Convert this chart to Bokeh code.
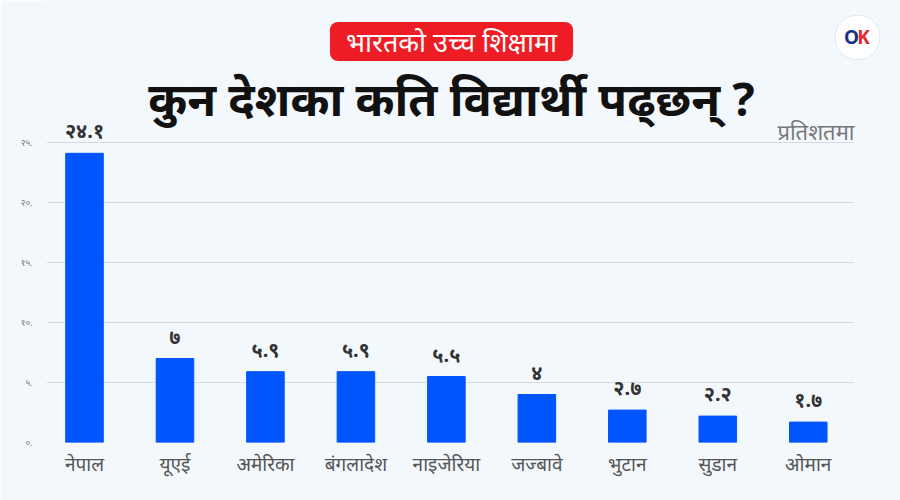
from bokeh.plotting import figure
from bokeh.models import Range1d, FixedTicker, Label, ColumnDataSource, BoxAnnotation
from bokeh.core.properties import value
from bokeh.embed import file_html
from bokeh.resources import INLINE

countries = ["नेपाल", "यूएई", "अमेरिका", "बंगलादेश", "नाइजेरिया", "जज्बावे", "भुटान", "सुडान", "ओमान"]
shares = [24.1, 7, 5.9, 5.9, 5.5, 4, 2.7, 2.2, 1.7]
y_ticks = [0, 5, 10, 15, 20, 25]
y_tick_labels = ["०.", "५.", "१०.", "१५.", "२०.", "२५."]

DEV = str.maketrans("0123456789", "०१२३४५६७८९")
def dev(v):
    return ("%g" % v).translate(DEV)

value_labels = [dev(v) for v in shares]
idx = list(range(len(countries)))

BG = "#f3f8fd"
FONT = "Noto Sans"

W, H = 900, 500
FL, FB = 46, 442          # frame left / bottom in canvas px
PX_X = 90.47               # px per category
PX_Y = 12.0                # px per percent
x0 = -0.42
x_end = x0 + (W - FL) / PX_X
y_end = FB / PX_Y

p = figure(width=W, height=H, output_backend="svg", toolbar_location=None,
           x_range=Range1d(x0, x_end), y_range=Range1d(0, y_end),
           min_border_left=FL, min_border_right=0, min_border_top=0, min_border_bottom=H - FB)
p.background_fill_color = BG
p.border_fill_color = BG
p.outline_line_color = None

src = ColumnDataSource(dict(x=idx, top=shares, lab=value_labels))
p.vbar(x="x", top="top", bottom=0, width=0.415, source=src, color="#0055ff")
p.text(x="x", y="top", text="lab", source=src, text_align="center", text_baseline="bottom",
       y_offset=-9, text_font=value(FONT), text_font_style="bold", text_font_size="20px",
       text_color="#333333")

p.xgrid.visible = False
p.ygrid.grid_line_color = "#d6dbe2"
p.ygrid.grid_line_width = 1
p.yaxis.ticker = FixedTicker(ticks=y_ticks)
p.yaxis.major_label_overrides = {t: l for t, l in zip(y_ticks, y_tick_labels)}
p.xaxis.ticker = FixedTicker(ticks=idx)
p.xaxis.major_label_overrides = {i: c for i, c in zip(idx, countries)}
for ax in (p.xaxis, p.yaxis):
    ax.axis_line_color = None
    ax.major_tick_line_color = None
    ax.minor_tick_line_color = None
    ax.major_label_text_font = FONT
p.yaxis.major_label_text_font_size = "9px"
p.yaxis.major_label_text_color = "#777777"
p.yaxis.major_label_standoff = 8
p.xaxis.major_label_text_font_size = "19px"
p.xaxis.major_label_text_color = "#555555"
p.xaxis.major_label_standoff = 2

# hide grid lines right of the last category
p.add_layout(BoxAnnotation(left=x0 + (853 - FL) / PX_X, fill_color=BG, fill_alpha=1, line_color=None))

def sx(X):
    return X - FL
def sy(Y):
    return FB - Y

p.add_layout(Label(x=sx(451), y=sy(41), x_units="screen", y_units="screen",
                   text="भारतको उच्च शिक्षामा", text_align="center", text_baseline="middle",
                   text_font=FONT, text_font_size="27px", text_color="white",
                   background_fill_color="#ee1c25", padding=(16, 1), border_radius=8))
p.add_layout(Label(x=sx(451), y=sy(97), x_units="screen", y_units="screen",
                   text="कुन देशका कति विद्यार्थी पढ्छन् ?", text_align="center", text_baseline="middle",
                   text_font=FONT, text_font_size="47px", text_font_style="bold", text_color="#111111"))
p.add_layout(Label(x=sx(854), y=sy(130), x_units="screen", y_units="screen",
                   text="प्रतिशतमा", text_align="right", text_baseline="middle",
                   text_font=FONT, text_font_size="22px", text_color="#777777"))
# logo
p.add_layout(Label(x=sx(857), y=sy(37), x_units="screen", y_units="screen",
                   text="OK", text_align="center", text_baseline="middle",
                   text_font=FONT, text_font_size="16px", text_color="white",
                   background_fill_color="white", padding=11, border_radius=21,
                   border_line_color="#e3e8ee"))
p.add_layout(Label(x=sx(851), y=sy(36), x_units="screen", y_units="screen",
                   text="O", text_align="center", text_baseline="middle",
                   text_font=FONT, text_font_size="19px", text_font_style="bold", text_color="#1b2f8a"))
p.add_layout(Label(x=sx(863), y=sy(36), x_units="screen", y_units="screen",
                   text="K", text_align="center", text_baseline="middle",
                   text_font=FONT, text_font_size="19px", text_font_style="bold", text_color="#e8262b"))

open("out.html", "w").write(file_html(p, INLINE))
